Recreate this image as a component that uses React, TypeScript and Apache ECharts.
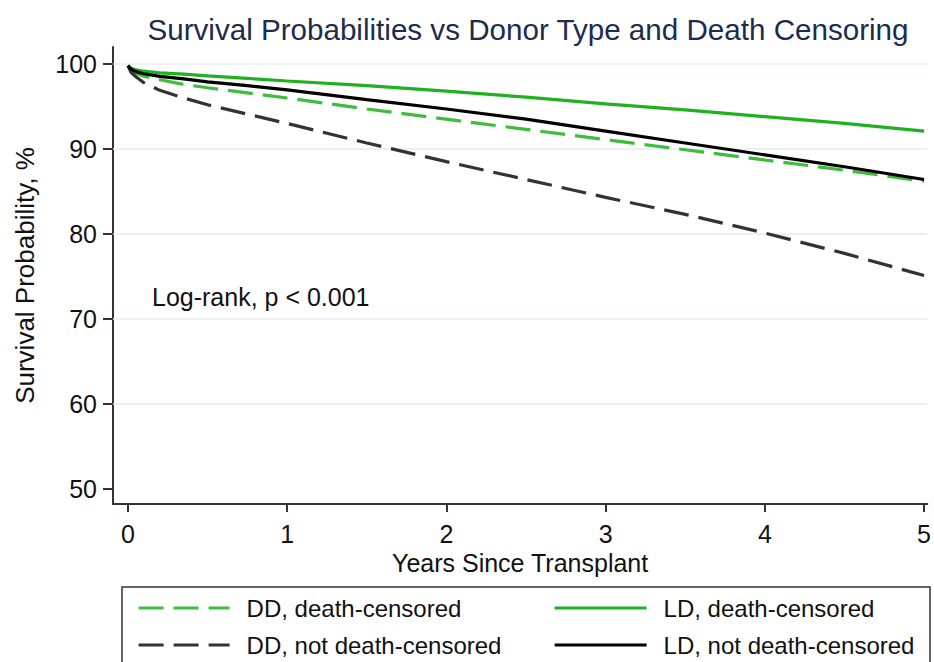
import React, { useEffect, useRef } from "react";
import * as echarts from "echarts";

const years = [0, 0.02, 0.05, 0.1, 0.2, 0.35, 0.5, 0.75, 1, 1.5, 2, 2.5, 3, 3.5, 4, 4.5, 5];
const ddDeathCensored = [99.8, 99.3, 98.9, 98.55, 98.15, 97.6, 97.2, 96.6, 96.0, 94.7, 93.5, 92.3, 91.1, 89.9, 88.7, 87.5, 86.2];
const ddNotDeathCensored = [99.8, 99.0, 98.5, 97.8, 96.9, 96.0, 95.2, 94.1, 93.0, 90.7, 88.5, 86.4, 84.3, 82.3, 80.1, 77.7, 75.1];
const ldDeathCensored = [99.8, 99.5, 99.3, 99.15, 98.95, 98.8, 98.6, 98.3, 98.0, 97.45, 96.8, 96.1, 95.3, 94.6, 93.8, 93.0, 92.1];
const ldNotDeathCensored = [99.8, 99.4, 99.1, 98.85, 98.55, 98.25, 97.9, 97.45, 96.95, 95.8, 94.7, 93.5, 92.1, 90.7, 89.3, 87.9, 86.4];

const seriesNames = ["DD, death-censored", "DD, not death-censored", "LD, death-censored", "LD, not death-censored"];
const xTicks = [0, 1, 2, 3, 4, 5];
const yTicks = [50, 60, 70, 80, 90, 100];
const gridValues = [60, 70, 80, 90, 100];

const FONT = "'Liberation Sans', Arial, sans-serif";

const pairs = (vals: number[]) => years.map((y, i) => [y, vals[i]]);

export default function App() {
  const ref = useRef<HTMLDivElement>(null);
  useEffect(() => {
    if (!ref.current) return;
    const chart = echarts.init(ref.current, undefined, { renderer: "svg" });
    const green = "#1fb21f";
    const greenDash = "#3cbd3c";
    const dashBlack = "#333333";
    const legendPos = [
      { left: 132, top: 591, itemWidth: 91 },
      { left: 132, top: 628, itemWidth: 91 },
      { left: 548, top: 591, itemWidth: 92 },
      { left: 548, top: 628, itemWidth: 92 },
    ];
    const option: any = {
      animation: false,
      backgroundColor: "#ffffff",
      textStyle: { fontFamily: FONT },
      title: {
        text: "Survival Probabilities vs Donor Type and Death Censoring",
        left: 523,
        top: 9,
        textAlign: "center",
        textStyle: { fontFamily: FONT, fontSize: 29.6, fontWeight: "normal", color: "#1c2b4e" },
      },
      grid: { left: 113, right: 4, top: 47, bottom: 158, containLabel: false },
      xAxis: {
        type: "value",
        min: -0.0939,
        max: 5.02,
        name: "Years Since Transplant",
        nameLocation: "middle",
        nameGap: 41,
        nameTextStyle: { fontFamily: FONT, fontSize: 25, color: "#111" },
        axisLine: { show: true, onZero: false, lineStyle: { color: "#333", width: 2 } },
        axisTick: { show: true, customValues: xTicks, length: 8, lineStyle: { color: "#333", width: 2 } },
        axisLabel: { customValues: xTicks, margin: 17, fontSize: 25, color: "#111", fontFamily: FONT, formatter: (v: number) => String(Math.round(v)) },
        splitLine: { show: false },
      },
      yAxis: {
        type: "value",
        min: 48.2,
        max: 102,
        name: "Survival Probability, %",
        nameLocation: "middle",
        nameGap: 75,
        nameTextStyle: { fontFamily: FONT, fontSize: 26, color: "#111" },
        axisLine: { show: true, onZero: false, lineStyle: { color: "#333", width: 2 } },
        axisTick: { show: true, customValues: yTicks, length: 10, lineStyle: { color: "#333", width: 2 } },
        axisLabel: { customValues: yTicks, margin: 16, fontSize: 25, color: "#111", fontFamily: FONT, formatter: (v: number) => String(Math.round(v)) },
        splitLine: { show: false },
      },
      legend: seriesNames.map((n, i) => ({
        data: [n],
        left: legendPos[i].left,
        top: legendPos[i].top,
        itemWidth: legendPos[i].itemWidth,
        itemHeight: 14,
        itemStyle: { opacity: 0 },
        lineStyle: { width: 3.2 },
        textStyle: { fontFamily: FONT, fontSize: 24, color: "#111", padding: [0, 0, 0, 12] },
        selectedMode: false,
      })),
      graphic: [
        {
          type: "rect",
          shape: { x: 122, y: 587, width: 808, height: 120 },
          style: { fill: "none", stroke: "#333", lineWidth: 1.5 },
          silent: true,
        },
        {
          type: "text",
          left: 152,
          top: 284,
          style: { text: "Log-rank, p < 0.001", fontFamily: FONT, fontSize: 25, fill: "#111" },
          silent: true,
        },
      ],
      series: [
        {
          name: "grid",
          type: "line",
          data: [],
          silent: true,
          markLine: {
            z: 1,
            silent: true,
            symbol: ["none", "none"],
            label: { show: false },
            lineStyle: { color: "#e4ebee", width: 1.5, type: "solid" },
            data: gridValues.map((v) => ({ yAxis: v })),
          },
        },
        {
          name: seriesNames[0],
          type: "line",
          data: pairs(ddDeathCensored),
          symbol: "none",
          z: 3,
          lineStyle: { color: greenDash, width: 3.2, type: [25, 10] },
          itemStyle: { color: greenDash },
        },
        {
          name: seriesNames[1],
          type: "line",
          data: pairs(ddNotDeathCensored),
          symbol: "none",
          z: 3,
          lineStyle: { color: dashBlack, width: 3.2, type: [25, 10] },
          itemStyle: { color: dashBlack },
        },
        {
          name: seriesNames[2],
          type: "line",
          data: pairs(ldDeathCensored),
          symbol: "none",
          z: 3,
          lineStyle: { color: green, width: 3.2, type: "solid" },
          itemStyle: { color: green },
        },
        {
          name: seriesNames[3],
          type: "line",
          data: pairs(ldNotDeathCensored),
          symbol: "none",
          z: 3,
          lineStyle: { color: "#000000", width: 3.2, type: "solid" },
          itemStyle: { color: "#000000" },
        },
      ],
    };
    chart.setOption(option);
    return () => chart.dispose();
  }, []);
  return (
    <div
      ref={ref}
      style={{ position: "fixed", left: 0, top: 0, width: 934, height: 662, background: "#fff" }}
    />
  );
}
